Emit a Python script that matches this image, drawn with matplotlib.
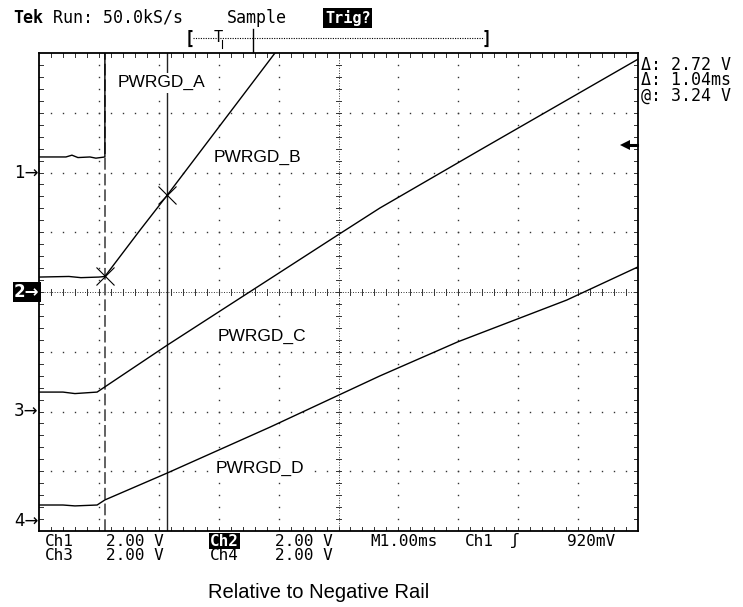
import matplotlib
matplotlib.use('Agg')
import matplotlib.pyplot as plt
from matplotlib.lines import Line2D
import numpy as np

# ---------------- data (time in ms, volts relative to channel ground) -------------
ch1_t = [0.0, 0.45, 0.55, 0.65, 0.85, 0.95, 1.10, 1.10, 10.0]
ch1_v = [0.52, 0.52, 0.58, 0.50, 0.52, 0.48, 0.52, 20.0, 20.0]

ch2_t = [0.0, 0.50, 0.70, 1.00, 1.10, 1.69, 2.14, 3.94, 5.0]
ch2_v = [0.50, 0.52, 0.48, 0.50, 0.52, 2.08, 3.24, 8.00, 10.8]

ch3_t = [0.0, 0.40, 0.60, 0.97, 2.14, 4.99, 5.69, 7.36, 9.98, 10.0]
ch3_v = [0.65, 0.65, 0.60, 0.65, 2.22, 5.91, 6.81, 8.75, 11.77, 11.8]

ch4_t = [0.0, 0.40, 0.60, 0.97, 1.10, 2.14, 3.86, 5.69, 6.99, 8.81, 10.0]
ch4_v = [0.53, 0.53, 0.50, 0.53, 0.70, 1.60, 3.14, 4.85, 5.99, 7.39, 8.50]

ground_div = {'1': 6.0, '2': 4.0, '3': 2.0, '4': 0.17}
volts_per_div = 2.0
trig_level_v = 0.92
cursor_t = [1.10, 2.14]

labels = ['PWRGD_A', 'PWRGD_B', 'PWRGD_C', 'PWRGD_D']
label_pos = [(2.04, 7.50), (3.64, 6.26), (3.72, 3.26), (3.69, 1.04)]

readouts = ['\u0394: 2.72 V', '\u0394: 1.04ms', '@: 3.24 V']

# ---------------- figure ------------------------------------------------------------
W, H = 743, 607
fig = plt.figure(figsize=(W / 100, H / 100), dpi=100)
fig.patch.set_facecolor('white')
L, R, T, B = 39, 638, 53, 531
ax = fig.add_axes([L / W, 1 - B / H, (R - L) / W, (B - T) / H])
ax.set_xlim(0, 10)
ax.set_ylim(0, 8)
ax.set_xticks([])
ax.set_yticks([])
for s in ax.spines.values():
    s.set_linewidth(1.3)
    s.set_color('black')

def fx(px):
    return px / W

def fy(py):
    return 1 - py / H

scope_font = ['DejaVu Sans Mono', 'DejaVu Sans']
label_font = ['Liberation Sans', 'DejaVu Sans']

gcol = '#333333'
# grid dots
minor = [i * 0.2 for i in range(1, 50)]
for xv in range(1, 10):
    if xv == 5:
        continue
    ys = [m for m in minor if m < 8]
    ax.plot([xv] * len(ys), ys, ls='none', marker='s', ms=1.0, mew=0, color=gcol)
for yv in range(1, 8):
    if yv == 4:
        continue
    xs = [m for m in minor if m < 10]
    ax.plot(xs, [yv] * len(xs), ls='none', marker='s', ms=1.0, mew=0, color=gcol)

# centre cross (fine dotted with ticks)
ax.axvline(5, color=gcol, lw=0.7, ls=(0, (1, 1.6)))
ax.axhline(4, color=gcol, lw=0.7, ls=(0, (1, 1.6)))
for m in minor:
    if m < 10:
        ax.plot([m, m], [4 - 0.05, 4 + 0.05], color=gcol, lw=0.7)
    if m < 8:
        ax.plot([5 - 0.05, 5 + 0.05], [m, m], color=gcol, lw=0.7)

# frame ticks
for m in minor:
    if m < 10:
        ax.plot([m, m], [0, 0.06], color=gcol, lw=0.7)
        ax.plot([m, m], [8 - 0.06, 8], color=gcol, lw=0.7)
    if m < 8:
        ax.plot([0, 0.06], [m, m], color=gcol, lw=0.7)
        ax.plot([10 - 0.06, 10], [m, m], color=gcol, lw=0.7)

# cursors
ax.axvline(cursor_t[0], color='#555555', lw=1.3, dashes=(6.5, 2.2))
ax.axvline(cursor_t[1], color='#222222', lw=1.0)

# traces
def to_div(ch, vs):
    return [ground_div[ch] + v / volts_per_div for v in vs]

for ch, tt, vv in [('1', ch1_t, ch1_v), ('2', ch2_t, ch2_v),
                   ('3', ch3_t, ch3_v), ('4', ch4_t, ch4_v)]:
    ax.plot(tt, to_div(ch, vv), color='black', lw=1.0, solid_joinstyle='miter')

# cursor crosses on ch2
cy = np.interp(cursor_t, ch2_t, to_div('2', ch2_v))
ax.plot(cursor_t, cy, ls='none', marker='x', ms=13, mew=0.8, color='black')

# trace labels
for lab, (xx, yy) in zip(labels, label_pos):
    ax.text(xx, yy, lab, ha='center', va='center', fontsize=12.5, family=label_font,
            bbox=dict(facecolor='white', edgecolor='none', pad=1.5), zorder=5)

# ---------------- header ---------------------------------------------------------
fig.text(fx(13), fy(18), 'Tek', fontsize=12, weight='bold', family=scope_font, va='center')
fig.text(fx(53), fy(18), 'Run: 50.0kS/s', fontsize=12, family=scope_font, va='center')
fig.text(fx(227), fy(18), 'Sample', fontsize=12, family=scope_font, va='center')
fig.text(fx(325), fy(18), 'Trig?', fontsize=11, weight='bold', family=scope_font, va='center',
         color='white', bbox=dict(facecolor='black', edgecolor='none', pad=1.2))

# record bar
fig.text(fx(185), fy(39), '[', fontsize=12, weight='bold', family=scope_font, va='center')
fig.text(fx(482), fy(39), ']', fontsize=12, weight='bold', family=scope_font, va='center')
fig.add_artist(Line2D([fx(193), fx(484)], [fy(38), fy(38)], color='black', lw=0.8,
                      ls=(0, (1, 1.2))))
fig.text(fx(214), fy(38), 'T', fontsize=11, family=scope_font, va='center')
fig.add_artist(Line2D([fx(222), fx(222)], [fy(40), fy(48)], color='black', lw=0.8))
fig.add_artist(Line2D([fx(253), fx(253)], [fy(29), fy(52)], color='black', lw=1.0))

# readouts (one multi-line text block)
fig.text(fx(641), fy(56), '\n'.join(readouts), fontsize=12, family=scope_font,
         va='top', linespacing=0.82)

# trigger level arrow (right edge)
tdiv = ground_div['1'] + trig_level_v / volts_per_div
ax.plot([9.78], [tdiv], marker='<', ms=7, color='black', clip_on=False, mew=0)
ax.plot([9.78, 9.98], [tdiv, tdiv], color='black', lw=2.2, clip_on=False)

# channel ground markers (left)
for ch in ['1', '2', '3', '4']:
    ypx = B - ground_div[ch] * (B - T) / 8
    if ch == '2':
        fig.text(fx(14), fy(ypx), '2\u2192', fontsize=12, weight='bold', family=['DejaVu Sans'],
                 va='center', color='white',
                 bbox=dict(facecolor='black', edgecolor='none', pad=0.8))
    else:
        fig.text(fx(14), fy(ypx), ch + '\u2192', fontsize=12, family=['DejaVu Sans'], va='center')

# ---------------- footer -----------------------------------------------------------
r1, r2 = 541, 555
fs = 11.5
fig.text(fx(45), fy(r1), 'Ch1', fontsize=fs, family=scope_font, va='center')
fig.text(fx(106), fy(r1), '2.00 V', fontsize=fs, family=scope_font, va='center')
fig.text(fx(210), fy(r1), 'Ch2', fontsize=fs, weight='bold', family=scope_font, va='center',
         color='white', bbox=dict(facecolor='black', edgecolor='none', pad=0.6))
fig.text(fx(275), fy(r1), '2.00 V', fontsize=fs, family=scope_font, va='center')
fig.text(fx(370), fy(r1), 'M1.00ms', fontsize=fs, family=scope_font, va='center')
fig.text(fx(465), fy(r1), 'Ch1', fontsize=fs, family=scope_font, va='center')
fig.text(fx(510), fy(r1), '\u0283', fontsize=fs, family=scope_font, va='center')
fig.text(fx(567), fy(r1), '920mV', fontsize=fs, family=scope_font, va='center')
fig.text(fx(45), fy(r2), 'Ch3', fontsize=fs, family=scope_font, va='center')
fig.text(fx(106), fy(r2), '2.00 V', fontsize=fs, family=scope_font, va='center')
fig.text(fx(210), fy(r2), 'Ch4', fontsize=fs, family=scope_font, va='center')
fig.text(fx(275), fy(r2), '2.00 V', fontsize=fs, family=scope_font, va='center')

fig.text(fx(319), fy(593), 'Relative to Negative Rail', fontsize=14.5, family=label_font,
         ha='center', va='center')

fig.savefig('out.png', dpi=100, facecolor='white')
